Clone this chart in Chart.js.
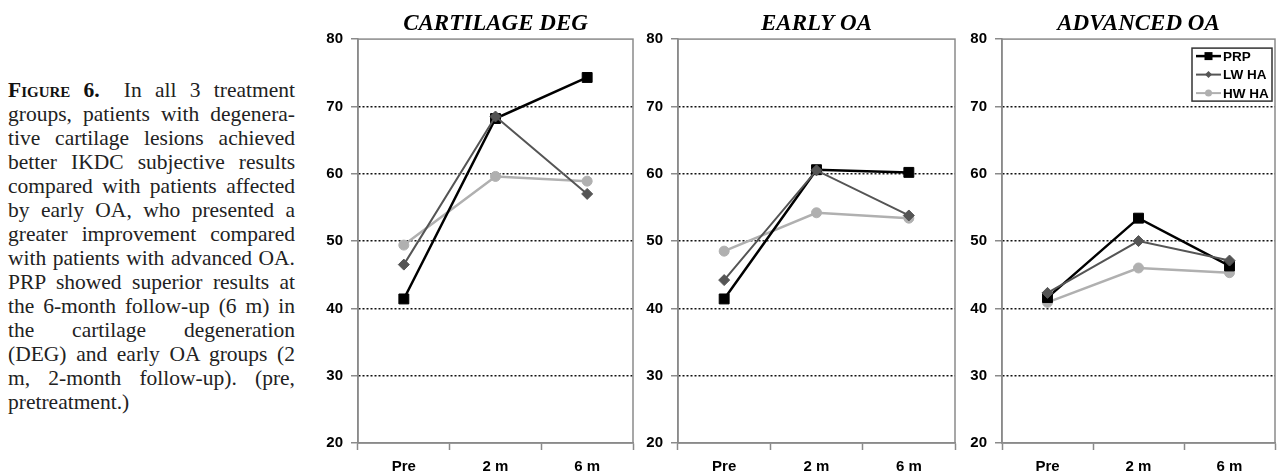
<!DOCTYPE html>
<html lang="en">
<head>
    <meta charset="UTF-8">
    <title>Figure 6 - IKDC subjective results</title>
    <script src="https://cdn.jsdelivr.net/npm/chart.js"></script>
    <style>
        body { margin: 0; width: 1283px; height: 476px; overflow: hidden; background: #fff; position: relative; }
        #caption {
            position: absolute; left: 8px; top: 78px; width: 287px;
            font-family: "Liberation Serif", "Times New Roman", serif;
            font-size: 21.5px; line-height: 24px; color: #222;
        }
        #caption .ln { text-align: justify; text-align-last: justify; }
        #caption .ln.last { text-align-last: left; }
        #caption .fig { font-weight: bold; font-variant: small-caps; color: #111; }
        .panel { position: absolute; top: 0; }
    </style>
</head>
<body>
    <div id="caption">
        <div class="ln"><span class="fig">Figure 6.</span>&ensp; In all 3 treatment</div>
        <div class="ln">groups, patients with degenera-</div>
        <div class="ln">tive cartilage lesions achieved</div>
        <div class="ln">better IKDC subjective results</div>
        <div class="ln">compared with patients affected</div>
        <div class="ln">by early OA, who presented a</div>
        <div class="ln">greater improvement compared</div>
        <div class="ln">with patients with advanced OA.</div>
        <div class="ln">PRP showed superior results at</div>
        <div class="ln">the 6-month follow-up (6 m) in</div>
        <div class="ln">the cartilage degeneration</div>
        <div class="ln">(DEG) and early OA groups (2</div>
        <div class="ln">m, 2-month follow-up). (pre,</div>
        <div class="ln last">pretreatment.)</div>
    </div>

    <canvas id="g1" class="panel" style="left:318px" width="323" height="476"></canvas>
    <canvas id="g2" class="panel" style="left:638px" width="325" height="476"></canvas>
    <canvas id="g3" class="panel" style="left:962px" width="321" height="476"></canvas>

    <script>
        // datos
        const timepoints = ['Pre', '2 m', '6 m'];
        const seriesNames = ['PRP', 'LW HA', 'HW HA'];
        const yTicks = [20, 30, 40, 50, 60, 70, 80];

        const degPRP = [41.4, 68.2, 74.3];
        const degLW = [46.5, 68.5, 57.0];
        const degHW = [49.4, 59.6, 58.9];

        const earlyPRP = [41.4, 60.6, 60.2];
        const earlyLW = [44.2, 60.5, 53.8];
        const earlyHW = [48.5, 54.2, 53.4];

        const advPRP = [41.6, 53.4, 46.3];
        const advLW = [42.3, 50.0, 47.1];
        const advHW = [40.9, 46.0, 45.3];

        const frameGray = '#8a8a8a';
        const estilos = [
            { color: '#000000', point: 'rect', radius: 7, width: 2.5, order: 1 },
            { color: '#555555', point: 'rectRot', radius: 5.5, width: 2, order: 0 },
            { color: '#b0b0b0', point: 'circle', radius: 5, width: 2.5, order: 2 }
        ];

        // marco gris alrededor del area del grafico
        const marco = {
            id: 'marco',
            beforeDatasetsDraw(chart) {
                const a = chart.chartArea;
                const ctx = chart.ctx;
                ctx.save();
                ctx.strokeStyle = frameGray;
                ctx.lineWidth = 1.5;
                ctx.strokeRect(a.left, a.top, a.right - a.left, a.bottom - a.top);
                ctx.restore();
            }
        };

        function marcador(ctx, tipo, x, y, r) {
            ctx.beginPath();
            if (tipo === 'rect') {
                ctx.rect(x - r, y - r, 2 * r, 2 * r);
            } else if (tipo === 'rectRot') {
                ctx.moveTo(x, y - r); ctx.lineTo(x + r, y); ctx.lineTo(x, y + r); ctx.lineTo(x - r, y);
                ctx.closePath();
            } else {
                ctx.arc(x, y, r, 0, Math.PI * 2);
            }
            ctx.fill();
        }

        // leyenda con recuadro dentro del area (solo panel derecho)
        const leyendaCaja = {
            id: 'leyendaCaja',
            afterDraw(chart, args, opts) {
                if (!opts.show) return;
                const a = chart.chartArea;
                const ctx = chart.ctx;
                const w = 80, h = 53;
                const x0 = a.right - w - 3, y0 = a.top + 9;
                ctx.save();
                ctx.fillStyle = '#fff';
                ctx.fillRect(x0, y0, w, h);
                ctx.strokeStyle = '#333';
                ctx.lineWidth = 1.5;
                ctx.strokeRect(x0, y0, w, h);
                ctx.font = 'bold 13.5px "Liberation Sans", Arial, sans-serif';
                ctx.textBaseline = 'middle';
                chart.data.datasets.forEach((ds, i) => {
                    const y = y0 + 8 + i * 18.5;
                    ctx.strokeStyle = ds.borderColor;
                    ctx.fillStyle = ds.borderColor;
                    ctx.lineWidth = i === 0 ? 2.5 : 2;
                    ctx.beginPath();
                    ctx.moveTo(x0 + 4, y); ctx.lineTo(x0 + 29, y);
                    ctx.stroke();
                    marcador(ctx, ds.pointStyle, x0 + 16.5, y, i === 0 ? 4 : 3.5);
                    ctx.fillStyle = '#000';
                    ctx.fillText(ds.label, x0 + 31, y + 1);
                });
                ctx.restore();
            }
        };

        function crearPanel(id, titulo, series, conLeyenda, padDer) {
            const datasets = series.map((valores, i) => ({
                label: seriesNames[i],
                data: valores,
                borderColor: estilos[i].color,
                backgroundColor: estilos[i].color,
                borderWidth: estilos[i].width,
                pointStyle: estilos[i].point,
                pointRadius: estilos[i].radius,
                pointHoverRadius: estilos[i].radius,
                pointBorderWidth: 1,
                tension: 0,
                order: estilos[i].order
            }));

            return new Chart(document.getElementById(id), {
                type: 'line',
                data: { labels: timepoints, datasets: datasets },
                plugins: [marco, leyendaCaja],
                options: {
                    responsive: false,
                    animation: false,
                    events: [],
                    // la escala x reserva el padding de las etiquetas dos veces; se compensa abajo
                    layout: { padding: { left: 0, right: padDer, top: 0, bottom: -7 } },
                    scales: {
                        x: {
                            offset: true,
                            grid: {
                                offset: true,
                                drawOnChartArea: false,
                                tickLength: 7,
                                tickColor: frameGray,
                                tickWidth: 1.5
                            },
                            border: { color: frameGray, width: 1.5 },
                            ticks: {
                                color: '#000',
                                padding: 9,
                                maxRotation: 0,
                                font: { family: '"Liberation Sans", Arial, sans-serif', size: 15, weight: 'bold', lineHeight: 1 }
                            }
                        },
                        y: {
                            min: 20,
                            max: 80,
                            afterBuildTicks: (scale) => { scale.ticks = yTicks.map(v => ({ value: v })); },
                            afterFit: (scale) => { scale.width = 40; },
                            grid: {
                                color: (c) => (c.tick && (c.tick.value === 20 || c.tick.value === 80)) ? 'rgba(0,0,0,0)' : '#111',
                                lineWidth: 1.5,
                                tickLength: 7,
                                tickColor: frameGray,
                                tickWidth: 1.5,
                                borderDash: [2, 2],
                                tickBorderDash: []
                            },
                            border: { color: frameGray, width: 1.5, dash: [2, 2] },
                            ticks: {
                                color: '#000',
                                padding: 8,
                                font: { family: '"Liberation Sans", Arial, sans-serif', size: 15, weight: 'bold' }
                            }
                        }
                    },
                    plugins: {
                        legend: { display: false },
                        tooltip: { enabled: false },
                        leyendaCaja: { show: conLeyenda },
                        title: {
                            display: true,
                            text: titulo,
                            fullSize: false,
                            color: '#000',
                            padding: { top: 10, bottom: 1.5 },
                            font: { family: '"Liberation Serif", "Times New Roman", serif', size: 23, style: 'italic', weight: 'bold' }
                        }
                    }
                }
            });
        }

        crearPanel('g1', 'CARTILAGE DEG', [degPRP, degLW, degHW], false, 2);
        crearPanel('g2', 'EARLY OA', [earlyPRP, earlyLW, earlyHW], false, 2);
        crearPanel('g3', 'ADVANCED OA', [advPRP, advLW, advHW], true, 1);
    </script>
</body>
</html>
